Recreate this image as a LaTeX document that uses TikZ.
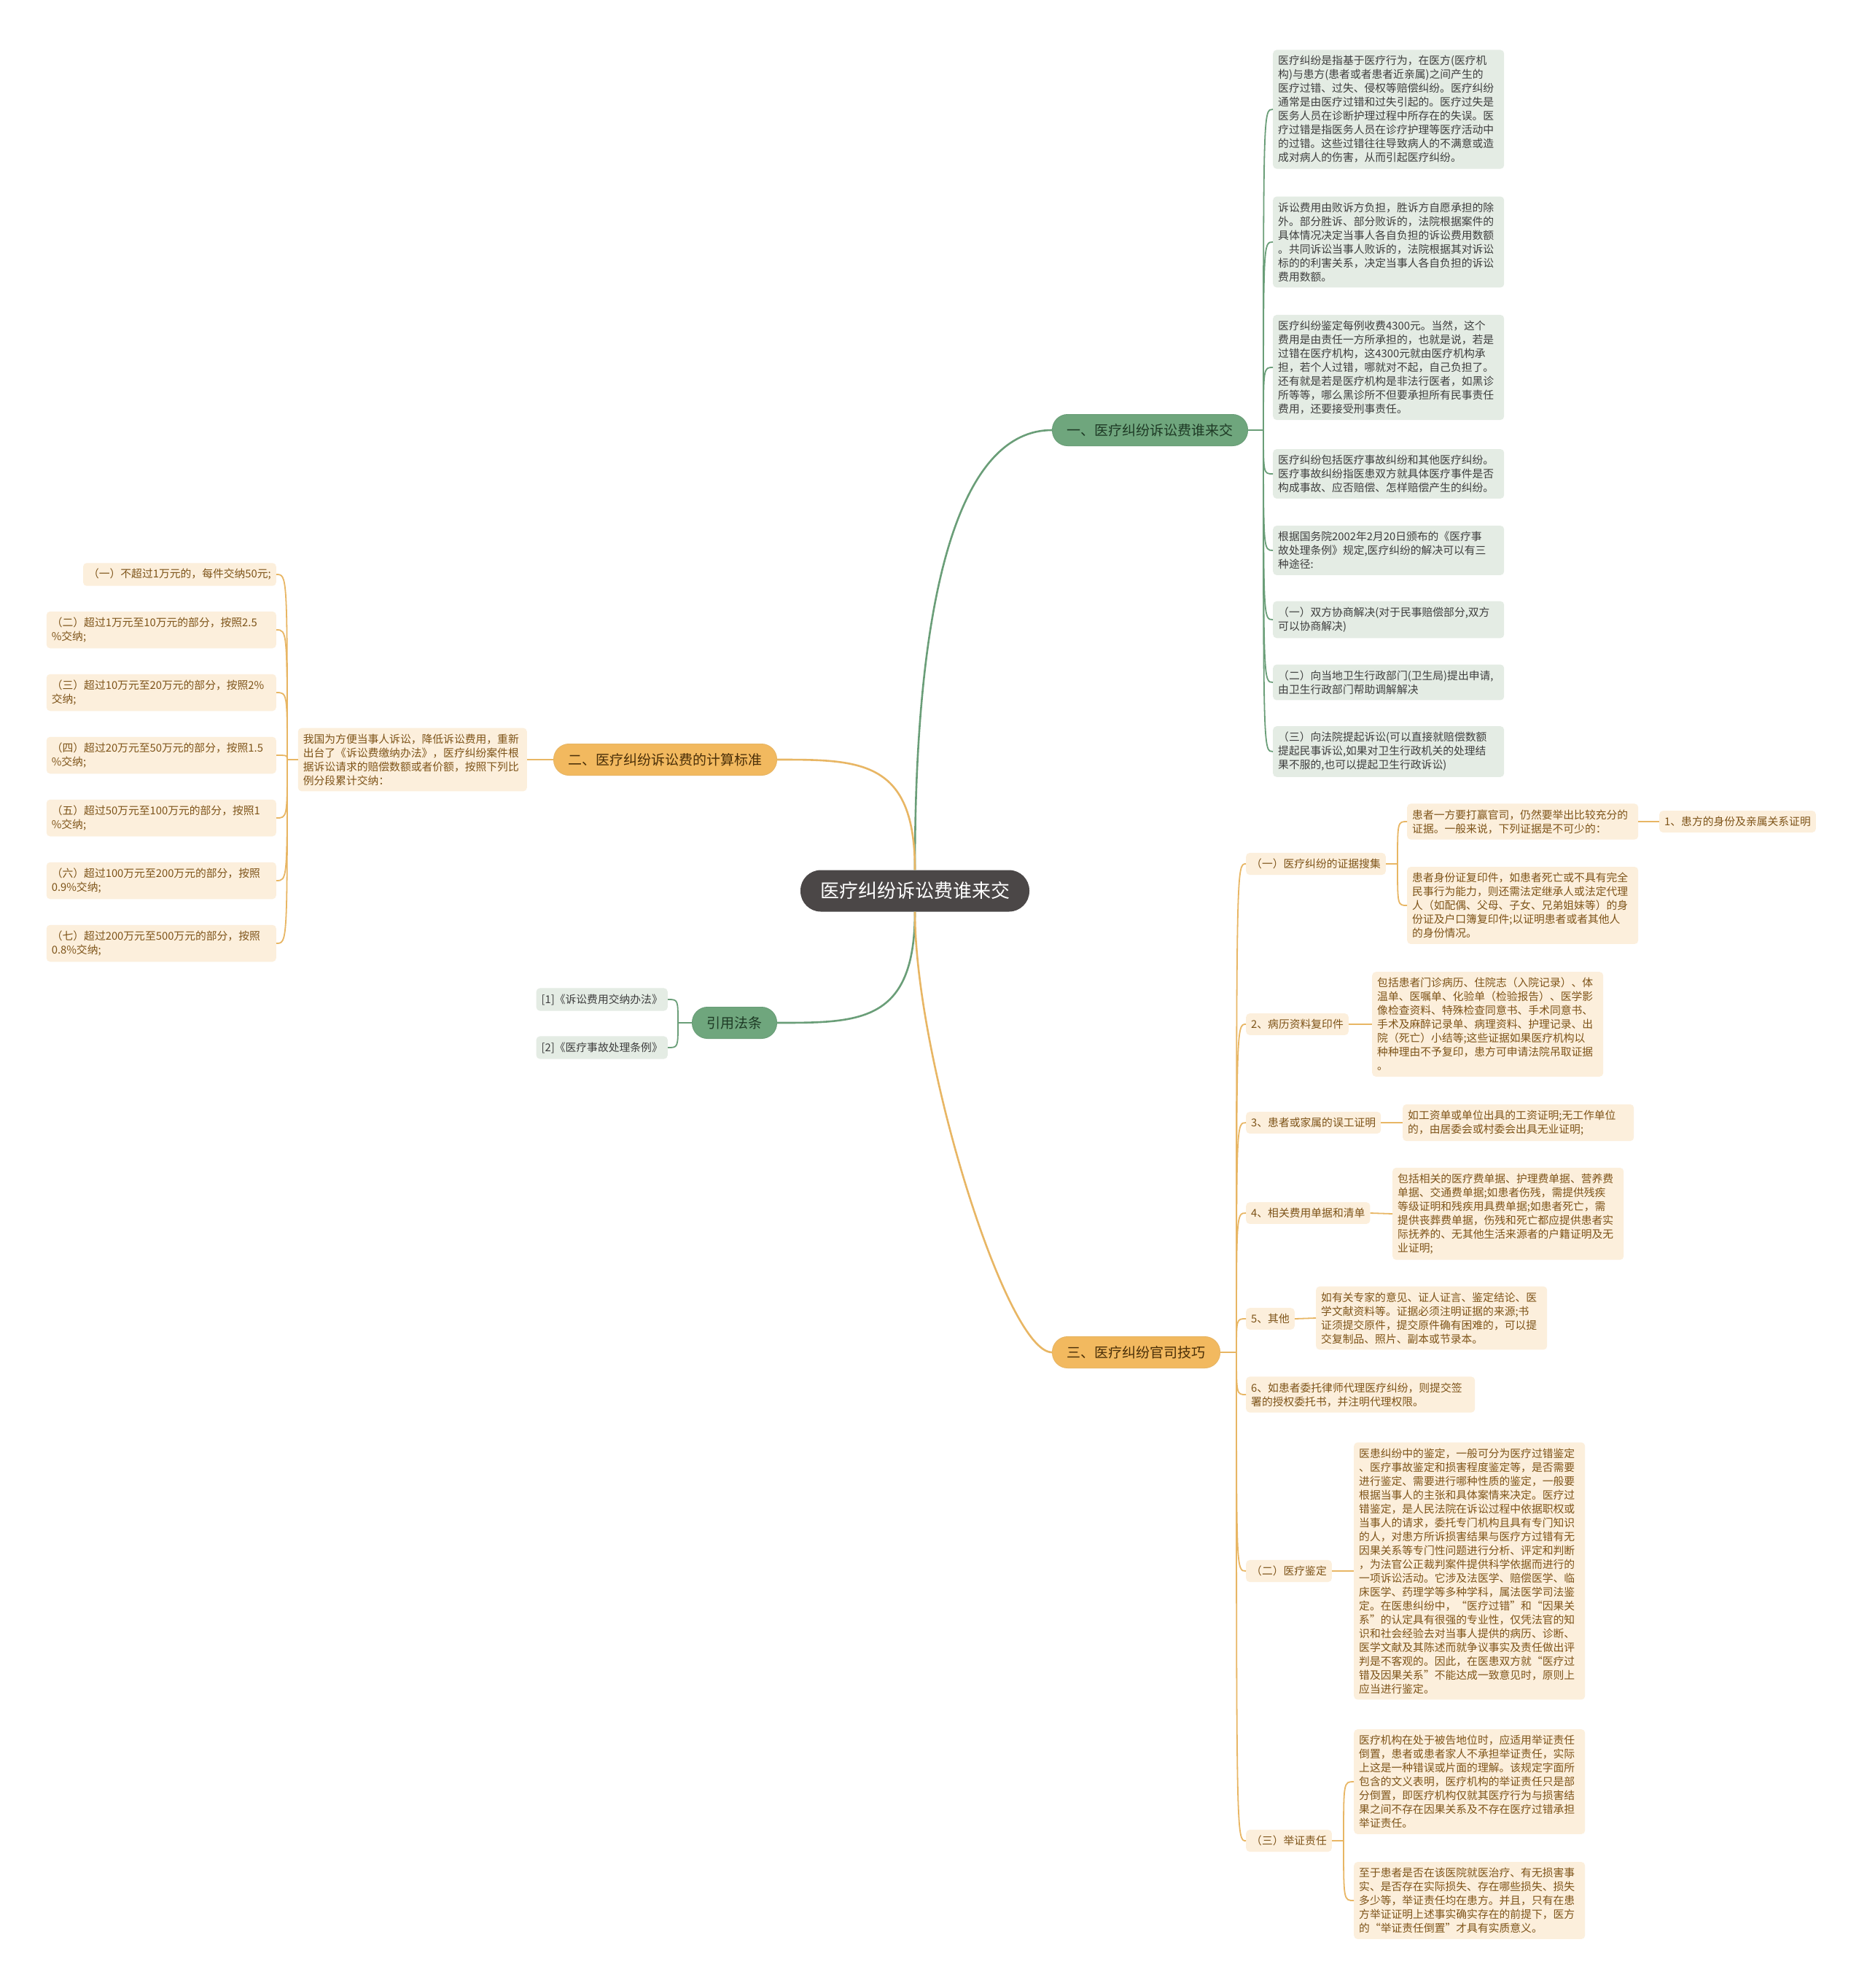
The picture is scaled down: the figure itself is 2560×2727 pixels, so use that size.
\documentclass[tikz,border=0pt]{standalone}
\usepackage{fontspec}
\setmainfont{Noto Sans CJK SC}
\usetikzlibrary{positioning}
\definecolor{rootc}{HTML}{4B4747}
\definecolor{gline}{HTML}{6A9E78}
\definecolor{gfill}{HTML}{6FA67D}
\definecolor{gleaf}{HTML}{E4ECE4}
\definecolor{gtext}{HTML}{3E3E3E}
\definecolor{gbtext}{HTML}{1E3A25}
\definecolor{oline}{HTML}{E8B664}
\definecolor{ofill}{HTML}{F2B95F}
\definecolor{oleaf}{HTML}{FCEFDC}
\definecolor{otext}{HTML}{7E5419}
\definecolor{obtext}{HTML}{4A2F08}

\begin{document}
\begin{tikzpicture}[x=1pt, y=-1pt,
  small/.style={font=\fontsize{14.8pt}{19pt}\selectfont},
  rootbox/.style={fill=rootc, text=white, rounded corners=28pt, minimum height=57pt, inner xsep=27pt, font=\fontsize{26pt}{30pt}\selectfont},
  gbranch/.style={fill=gfill, draw=gline, line width=1pt, text=gbtext, rounded corners=21pt, minimum height=43pt, inner xsep=20pt, font=\fontsize{19pt}{23pt}\selectfont},
  obranch/.style={gbranch, fill=ofill, draw=oline, text=obtext},
  gleafbox/.style={fill=gleaf, text=gtext, rounded corners=5pt, inner xsep=7pt, inner ysep=8pt, align=left, small},
  oleafbox/.style={gleafbox, fill=oleaf, text=otext},
  gmain/.style={draw=gline, line width=2.6pt},
  omain/.style={draw=oline, line width=2.6pt},
  glink/.style={draw=gline, line width=1.8pt},
  olink/.style={draw=oline, line width=1.8pt}]
  \useasboundingbox[fill=white] (0,0) rectangle (2560,2727);

  % Root and branches
  \node[rootbox] (root) at (1255,1222) {医疗纠纷诉讼费谁来交};
  \node[gbranch, anchor=west] (b1) at (1443,590) {一、医疗纠纷诉讼费谁来交};
  \node[obranch, anchor=east] (b2) at (1066,1042) {二、医疗纠纷诉讼费的计算标准};
  \node[gbranch, anchor=east] (b4) at (1066,1403) {引用法条};
  \node[obranch, anchor=west] (b3) at (1443,1855) {三、医疗纠纷官司技巧};

  \draw[gmain] (root.north) .. controls (1255,800) and (1320,590) .. (b1.west);
  \draw[omain] (root.north) .. controls (1255,1042) and (1180,1042) .. (b2.east);
  \draw[gmain] (root.south) .. controls (1255,1403) and (1180,1403) .. (b4.east);
  \draw[omain] (root.south) .. controls (1255,1450) and (1380,1855) .. (b3.west);

  % Branch 1
  \node[gleafbox, text width=303pt, anchor=west] (c1) at (1746,150) {医疗纠纷是指基于医疗行为，在医方(医疗机\\构)与患方(患者或者患者近亲属)之间产生的\\医疗过错、过失、侵权等赔偿纠纷。医疗纠纷\\通常是由医疗过错和过失引起的。医疗过失是\\医务人员在诊断护理过程中所存在的失误。医\\疗过错是指医务人员在诊疗护理等医疗活动中\\的过错。这些过错往往导致病人的不满意或造\\成对病人的伤害，从而引起医疗纠纷。};
  \node[gleafbox, text width=303pt, anchor=west] (c2) at (1746,332) {诉讼费用由败诉方负担，胜诉方自愿承担的除\\外。部分胜诉、部分败诉的，法院根据案件的\\具体情况决定当事人各自负担的诉讼费用数额\\。共同诉讼当事人败诉的，法院根据其对诉讼\\标的的利害关系，决定当事人各自负担的诉讼\\费用数额。};
  \node[gleafbox, text width=303pt, anchor=west] (c3) at (1746,504) {医疗纠纷鉴定每例收费4300元。当然，这个\\费用是由责任一方所承担的，也就是说，若是\\过错在医疗机构，这4300元就由医疗机构承\\担，若个人过错，哪就对不起，自己负担了。\\还有就是若是医疗机构是非法行医者，如黑诊\\所等等，哪么黑诊所不但要承担所有民事责任\\费用，还要接受刑事责任。};
  \node[gleafbox, text width=303pt, anchor=west] (c4) at (1746,650) {医疗纠纷包括医疗事故纠纷和其他医疗纠纷。\\医疗事故纠纷指医患双方就具体医疗事件是否\\构成事故、应否赔偿、怎样赔偿产生的纠纷。};
  \node[gleafbox, text width=303pt, anchor=west] (c5) at (1746,755) {根据国务院2002年2月20日颁布的《医疗事\\故处理条例》规定,医疗纠纷的解决可以有三\\种途径:};
  \node[gleafbox, text width=303pt, anchor=west] (c6) at (1746,850) {（一）双方协商解决(对于民事赔偿部分,双方\\可以协商解决)};
  \node[gleafbox, text width=303pt, anchor=west] (c7) at (1746,936) {（二）向当地卫生行政部门(卫生局)提出申请,\\由卫生行政部门帮助调解解决};
  \node[gleafbox, text width=303pt, anchor=west] (c8) at (1746,1031) {（三）向法院提起诉讼(可以直接就赔偿数额\\提起民事诉讼,如果对卫生行政机关的处理结\\果不服的,也可以提起卫生行政诉讼)};
  \coordinate (j1) at (1733,590);
  \draw[glink] (b1.east) -- (j1);
  \foreach \n in {c1,c2,c3,c4,c5,c6,c7,c8}
    \draw[glink] (j1) .. controls (j1 |- \n.west) .. (\n.west);

  % Branch 2
  \node[oleafbox, text width=300pt, anchor=east] (main2) at (723,1042) {我国为方便当事人诉讼，降低诉讼费用，重新\\出台了《诉讼费缴纳办法》，医疗纠纷案件根\\据诉讼请求的赔偿数额或者价额，按照下列比\\例分段累计交纳：};
  \draw[olink] (b2.west) -- (main2.east);
  \node[oleafbox, anchor=east] (f1) at (379,788) {（一）不超过1万元的，每件交纳50元;};
  \foreach \i/\yy/\txt in {2/864/{（二）超过1万元至10万元的部分，按照2.5\\\%交纳;},
      3/950/{（三）超过10万元至20万元的部分，按照2\%\\交纳;},
      4/1036/{（四）超过20万元至50万元的部分，按照1.5\\\%交纳;},
      5/1122/{（五）超过50万元至100万元的部分，按照1\\\%交纳;},
      6/1208/{（六）超过100万元至200万元的部分，按照\\0.9\%交纳;},
      7/1294/{（七）超过200万元至500万元的部分，按照\\0.8\%交纳;}}
    \node[oleafbox, text width=301pt, anchor=east] (f\i) at (379,\yy) {\txt};
  \coordinate (j2) at (394,1042);
  \draw[olink] (main2.west) -- (j2);
  \foreach \i in {1,...,7}
    \draw[olink] (j2) .. controls (j2 |- f\i.east) .. (f\i.east);

  % Citations
  \node[gleafbox, anchor=east] (r1) at (916,1371) {[1]《诉讼费用交纳办法》};
  \node[gleafbox, anchor=east] (r2) at (916,1437) {[2]《医疗事故处理条例》};
  \coordinate (j4) at (930,1403);
  \draw[glink] (b4.west) -- (j4);
  \foreach \n in {r1,r2}
    \draw[glink] (j4) .. controls (j4 |- \n.east) .. (\n.east);

  % Branch 3
  \node[oleafbox, anchor=west] (e1) at (1709,1185) {（一）医疗纠纷的证据搜集};
  \node[oleafbox, anchor=west] (e2) at (1709,1405) {2、病历资料复印件};
  \node[oleafbox, anchor=west] (e3) at (1709,1540) {3、患者或家属的误工证明};
  \node[oleafbox, anchor=west] (e4) at (1709,1664) {4、相关费用单据和清单};
  \node[oleafbox, anchor=west] (e5) at (1709,1809) {5、其他};
  \node[oleafbox, text width=300pt, anchor=west] (e6) at (1709,1913) {6、如患者委托律师代理医疗纠纷，则提交签\\署的授权委托书，并注明代理权限。};
  \node[oleafbox, anchor=west] (e7) at (1709,2155) {（二）医疗鉴定};
  \node[oleafbox, anchor=west] (e8) at (1709,2525) {（三）举证责任};
  \coordinate (j3) at (1696,1855);
  \draw[olink] (b3.east) -- (j3);
  \foreach \n in {e1,e2,e3,e4,e5,e6,e7,e8}
    \draw[olink] (j3) .. controls (j3 |- \n.west) .. (\n.west);

  \node[oleafbox, text width=303pt, anchor=west] (e1a) at (1930,1127) {患者一方要打赢官司，仍然要举出比较充分的\\证据。一般来说，下列证据是不可少的：};
  \node[oleafbox, anchor=west] (e1a1) at (2276,1127) {1、患方的身份及亲属关系证明};
  \node[oleafbox, text width=303pt, anchor=west] (e1b) at (1930,1242) {患者身份证复印件，如患者死亡或不具有完全\\民事行为能力，则还需法定继承人或法定代理\\人（如配偶、父母、子女、兄弟姐妹等）的身\\份证及户口簿复印件;以证明患者或者其他人\\的身份情况。};
  \coordinate (j5) at (1917,1185);
  \draw[olink] (e1.east) -- (j5);
  \foreach \n in {e1a,e1b}
    \draw[olink] (j5) .. controls (j5 |- \n.west) .. (\n.west);
  \draw[olink] (e1a.east) -- (e1a1.west);

  \node[oleafbox, text width=303pt, anchor=west] (e2a) at (1882,1405) {包括患者门诊病历、住院志（入院记录）、体\\温单、医嘱单、化验单（检验报告）、医学影\\像检查资料、特殊检查同意书、手术同意书、\\手术及麻醉记录单、病理资料、护理记录、出\\院（死亡）小结等;这些证据如果医疗机构以\\种种理由不予复印，患方可申请法院吊取证据\\。};
  \node[oleafbox, text width=303pt, anchor=west] (e3a) at (1924,1540) {如工资单或单位出具的工资证明;无工作单位\\的，由居委会或村委会出具无业证明;};
  \node[oleafbox, text width=303pt, anchor=west] (e4a) at (1910,1665) {包括相关的医疗费单据、护理费单据、营养费\\单据、交通费单据;如患者伤残，需提供残疾\\等级证明和残疾用具费单据;如患者死亡，需\\提供丧葬费单据，伤残和死亡都应提供患者实\\际抚养的、无其他生活来源者的户籍证明及无\\业证明;};
  \node[oleafbox, text width=303pt, anchor=west] (e5a) at (1805,1808) {如有关专家的意见、证人证言、鉴定结论、医\\学文献资料等。证据必须注明证据的来源;书\\证须提交原件，提交原件确有困难的，可以提\\交复制品、照片、副本或节录本。};
  \foreach \a/\b in {e2/e2a,e3/e3a,e4/e4a,e5/e5a}
    \draw[olink] (\a.east) -- (\b.west);

  \node[oleafbox, text width=303pt, anchor=west] (e7a) at (1857,2155) {医患纠纷中的鉴定，一般可分为医疗过错鉴定\\、医疗事故鉴定和损害程度鉴定等，是否需要\\进行鉴定、需要进行哪种性质的鉴定，一般要\\根据当事人的主张和具体案情来决定。医疗过\\错鉴定，是人民法院在诉讼过程中依据职权或\\当事人的请求，委托专门机构且具有专门知识\\的人，对患方所诉损害结果与医疗方过错有无\\因果关系等专门性问题进行分析、评定和判断\\，为法官公正裁判案件提供科学依据而进行的\\一项诉讼活动。它涉及法医学、赔偿医学、临\\床医学、药理学等多种学科，属法医学司法鉴\\定。在医患纠纷中，“医疗过错”和“因果关\\系”的认定具有很强的专业性，仅凭法官的知\\识和社会经验去对当事人提供的病历、诊断、\\医学文献及其陈述而就争议事实及责任做出评\\判是不客观的。因此，在医患双方就“医疗过\\错及因果关系”不能达成一致意见时，原则上\\应当进行鉴定。};
  \draw[olink] (e7.east) -- (e7a.west);

  \node[oleafbox, text width=303pt, anchor=west] (e8a) at (1857,2444) {医疗机构在处于被告地位时，应适用举证责任\\倒置，患者或患者家人不承担举证责任，实际\\上这是一种错误或片面的理解。该规定字面所\\包含的文义表明，医疗机构的举证责任只是部\\分倒置，即医疗机构仅就其医疗行为与损害结\\果之间不存在因果关系及不存在医疗过错承担\\举证责任。};
  \node[oleafbox, text width=303pt, anchor=west] (e8b) at (1857,2607) {至于患者是否在该医院就医治疗、有无损害事\\实、是否存在实际损失、存在哪些损失、损失\\多少等，举证责任均在患方。并且，只有在患\\方举证证明上述事实确实存在的前提下，医方\\的“举证责任倒置”才具有实质意义。};
  \coordinate (j8) at (1843,2525);
  \draw[olink] (e8.east) -- (j8);
  \foreach \n in {e8a,e8b}
    \draw[olink] (j8) .. controls (j8 |- \n.west) .. (\n.west);
\end{tikzpicture}
\end{document}
